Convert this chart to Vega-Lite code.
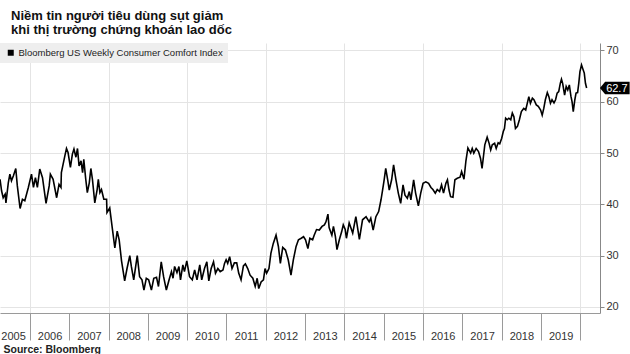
{
  "$schema": "https://vega.github.io/schema/vega-lite/v6.json",
  "width": 600,
  "height": 270,
  "autosize": {"type": "none"},
  "padding": {"left": 0, "top": 43, "right": 30, "bottom": 41},
  "background": "white",
  "title": {
    "text": ["Niềm tin người tiêu dùng sụt giảm", "khi thị trường chứng khoán lao dốc"],
    "anchor": "start",
    "frame": "group",
    "dx": 11,
    "offset": 6,
    "font": "Liberation Sans",
    "fontSize": 13,
    "fontWeight": "bold",
    "color": "#111",
    "lineHeight": 14
  },
  "config": {"view": {"stroke": null}},
  "data": {
    "values": [
      {"year": 2005.24, "value": 44.9}, {"year": 2005.28, "value": 42.6}, {"year": 2005.32, "value": 41.3},
      {"year": 2005.37, "value": 42.0}, {"year": 2005.39, "value": 40.3}, {"year": 2005.45, "value": 44.2},
      {"year": 2005.49, "value": 45.9}, {"year": 2005.53, "value": 44.6}, {"year": 2005.58, "value": 45.6},
      {"year": 2005.64, "value": 47.0}, {"year": 2005.68, "value": 43.6}, {"year": 2005.75, "value": 39.2},
      {"year": 2005.81, "value": 41.0}, {"year": 2005.87, "value": 40.7}, {"year": 2005.96, "value": 43.3},
      {"year": 2006.04, "value": 45.9}, {"year": 2006.09, "value": 43.3}, {"year": 2006.14, "value": 45.2},
      {"year": 2006.19, "value": 43.3}, {"year": 2006.25, "value": 46.9}, {"year": 2006.32, "value": 45.2},
      {"year": 2006.41, "value": 40.2}, {"year": 2006.49, "value": 43.6}, {"year": 2006.52, "value": 45.9},
      {"year": 2006.59, "value": 44.9}, {"year": 2006.68, "value": 41.3}, {"year": 2006.74, "value": 43.9},
      {"year": 2006.79, "value": 43.3}, {"year": 2006.80, "value": 46.2}, {"year": 2006.89, "value": 49.5},
      {"year": 2006.93, "value": 50.9}, {"year": 2006.97, "value": 50.1}, {"year": 2007.03, "value": 47.2},
      {"year": 2007.08, "value": 49.8}, {"year": 2007.12, "value": 50.8}, {"year": 2007.17, "value": 49.2},
      {"year": 2007.21, "value": 50.9}, {"year": 2007.25, "value": 47.5}, {"year": 2007.30, "value": 48.5},
      {"year": 2007.34, "value": 46.2}, {"year": 2007.37, "value": 48.8}, {"year": 2007.42, "value": 44.9},
      {"year": 2007.46, "value": 42.3}, {"year": 2007.51, "value": 44.2}, {"year": 2007.55, "value": 47.0},
      {"year": 2007.59, "value": 44.9}, {"year": 2007.65, "value": 40.3}, {"year": 2007.71, "value": 42.9},
      {"year": 2007.74, "value": 44.9}, {"year": 2007.78, "value": 42.3}, {"year": 2007.82, "value": 42.9},
      {"year": 2007.88, "value": 41.0}, {"year": 2007.95, "value": 41.0}, {"year": 2007.96, "value": 38.4},
      {"year": 2008.03, "value": 39.3}, {"year": 2008.10, "value": 35.1}, {"year": 2008.16, "value": 31.5},
      {"year": 2008.22, "value": 34.8}, {"year": 2008.27, "value": 33.1}, {"year": 2008.33, "value": 29.0},
      {"year": 2008.41, "value": 25.1}, {"year": 2008.47, "value": 27.5}, {"year": 2008.54, "value": 30.0},
      {"year": 2008.58, "value": 27.9}, {"year": 2008.64, "value": 25.3}, {"year": 2008.69, "value": 27.9},
      {"year": 2008.73, "value": 30.0}, {"year": 2008.79, "value": 25.9}, {"year": 2008.85, "value": 25.3},
      {"year": 2008.90, "value": 23.3}, {"year": 2008.96, "value": 25.6}, {"year": 2009.02, "value": 25.3},
      {"year": 2009.09, "value": 23.3}, {"year": 2009.15, "value": 25.6}, {"year": 2009.22, "value": 25.8},
      {"year": 2009.27, "value": 24.0}, {"year": 2009.34, "value": 28.8}, {"year": 2009.40, "value": 25.9},
      {"year": 2009.47, "value": 23.3}, {"year": 2009.54, "value": 25.3}, {"year": 2009.60, "value": 26.9},
      {"year": 2009.64, "value": 25.6}, {"year": 2009.68, "value": 27.9}, {"year": 2009.74, "value": 26.7},
      {"year": 2009.79, "value": 27.9}, {"year": 2009.83, "value": 25.3}, {"year": 2009.89, "value": 28.2},
      {"year": 2009.93, "value": 26.9}, {"year": 2009.99, "value": 29.0}, {"year": 2010.06, "value": 25.9},
      {"year": 2010.13, "value": 25.3}, {"year": 2010.19, "value": 27.2}, {"year": 2010.25, "value": 25.3},
      {"year": 2010.32, "value": 28.2}, {"year": 2010.37, "value": 25.3}, {"year": 2010.44, "value": 27.5},
      {"year": 2010.50, "value": 28.8}, {"year": 2010.55, "value": 25.1}, {"year": 2010.61, "value": 27.5},
      {"year": 2010.67, "value": 28.8}, {"year": 2010.72, "value": 26.6}, {"year": 2010.78, "value": 27.5},
      {"year": 2010.84, "value": 26.9}, {"year": 2010.91, "value": 27.2}, {"year": 2010.95, "value": 28.5},
      {"year": 2010.99, "value": 29.2}, {"year": 2011.03, "value": 28.5}, {"year": 2011.08, "value": 29.8},
      {"year": 2011.14, "value": 27.5}, {"year": 2011.20, "value": 28.6}, {"year": 2011.26, "value": 28.6},
      {"year": 2011.31, "value": 26.6}, {"year": 2011.37, "value": 25.3}, {"year": 2011.43, "value": 28.0},
      {"year": 2011.48, "value": 28.4}, {"year": 2011.54, "value": 27.5}, {"year": 2011.60, "value": 26.2},
      {"year": 2011.67, "value": 25.6}, {"year": 2011.73, "value": 24.0}, {"year": 2011.78, "value": 25.6},
      {"year": 2011.82, "value": 23.6}, {"year": 2011.88, "value": 24.9}, {"year": 2011.94, "value": 25.3},
      {"year": 2011.98, "value": 27.5}, {"year": 2012.02, "value": 26.6}, {"year": 2012.08, "value": 27.5},
      {"year": 2012.13, "value": 30.5}, {"year": 2012.19, "value": 32.4}, {"year": 2012.26, "value": 34.0},
      {"year": 2012.32, "value": 31.8}, {"year": 2012.37, "value": 28.5}, {"year": 2012.43, "value": 31.6},
      {"year": 2012.50, "value": 31.1}, {"year": 2012.57, "value": 29.2}, {"year": 2012.64, "value": 26.2},
      {"year": 2012.70, "value": 29.2}, {"year": 2012.77, "value": 31.8}, {"year": 2012.83, "value": 33.1},
      {"year": 2012.90, "value": 33.4}, {"year": 2012.96, "value": 33.7}, {"year": 2013.01, "value": 33.1},
      {"year": 2013.07, "value": 31.4}, {"year": 2013.12, "value": 33.4}, {"year": 2013.19, "value": 33.1},
      {"year": 2013.23, "value": 34.0}, {"year": 2013.29, "value": 35.1}, {"year": 2013.36, "value": 35.0},
      {"year": 2013.43, "value": 35.7}, {"year": 2013.49, "value": 36.0}, {"year": 2013.53, "value": 36.6},
      {"year": 2013.58, "value": 38.1}, {"year": 2013.61, "value": 35.5}, {"year": 2013.68, "value": 34.0},
      {"year": 2013.72, "value": 35.7}, {"year": 2013.77, "value": 33.7}, {"year": 2013.81, "value": 31.2},
      {"year": 2013.87, "value": 33.1}, {"year": 2013.93, "value": 34.7}, {"year": 2013.97, "value": 36.0},
      {"year": 2014.02, "value": 35.1}, {"year": 2014.05, "value": 33.4}, {"year": 2014.12, "value": 36.4},
      {"year": 2014.21, "value": 34.4}, {"year": 2014.29, "value": 37.6}, {"year": 2014.38, "value": 33.2},
      {"year": 2014.46, "value": 37.0}, {"year": 2014.55, "value": 37.6}, {"year": 2014.63, "value": 36.6},
      {"year": 2014.67, "value": 37.3}, {"year": 2014.73, "value": 35.0}, {"year": 2014.80, "value": 37.6},
      {"year": 2014.87, "value": 38.6}, {"year": 2014.93, "value": 40.9}, {"year": 2014.97, "value": 42.8},
      {"year": 2015.01, "value": 44.8}, {"year": 2015.05, "value": 47.0}, {"year": 2015.10, "value": 44.8},
      {"year": 2015.14, "value": 42.8}, {"year": 2015.20, "value": 44.8}, {"year": 2015.25, "value": 47.7},
      {"year": 2015.31, "value": 44.8}, {"year": 2015.37, "value": 42.2}, {"year": 2015.43, "value": 40.2},
      {"year": 2015.49, "value": 43.8}, {"year": 2015.54, "value": 41.8}, {"year": 2015.60, "value": 41.2},
      {"year": 2015.65, "value": 42.5}, {"year": 2015.69, "value": 40.9}, {"year": 2015.76, "value": 44.8},
      {"year": 2015.81, "value": 42.2}, {"year": 2015.88, "value": 39.7}, {"year": 2015.94, "value": 42.2},
      {"year": 2016.00, "value": 44.1}, {"year": 2016.07, "value": 44.4}, {"year": 2016.14, "value": 44.1},
      {"year": 2016.20, "value": 43.3}, {"year": 2016.25, "value": 42.9}, {"year": 2016.31, "value": 42.2},
      {"year": 2016.36, "value": 42.9}, {"year": 2016.42, "value": 42.5}, {"year": 2016.47, "value": 43.8},
      {"year": 2016.52, "value": 42.2}, {"year": 2016.58, "value": 44.1}, {"year": 2016.62, "value": 44.8},
      {"year": 2016.66, "value": 42.8}, {"year": 2016.70, "value": 41.5}, {"year": 2016.76, "value": 41.4},
      {"year": 2016.81, "value": 44.8}, {"year": 2016.87, "value": 45.1}, {"year": 2016.94, "value": 45.3},
      {"year": 2016.98, "value": 46.4}, {"year": 2017.04, "value": 44.9}, {"year": 2017.09, "value": 48.5},
      {"year": 2017.14, "value": 51.0}, {"year": 2017.21, "value": 50.0}, {"year": 2017.25, "value": 50.9},
      {"year": 2017.29, "value": 50.0}, {"year": 2017.35, "value": 50.9}, {"year": 2017.41, "value": 50.3},
      {"year": 2017.46, "value": 49.0}, {"year": 2017.50, "value": 47.0}, {"year": 2017.57, "value": 51.6},
      {"year": 2017.63, "value": 53.1}, {"year": 2017.68, "value": 51.9}, {"year": 2017.72, "value": 50.6},
      {"year": 2017.76, "value": 51.6}, {"year": 2017.82, "value": 51.9}, {"year": 2017.86, "value": 50.9},
      {"year": 2017.91, "value": 52.0}, {"year": 2017.95, "value": 51.8}, {"year": 2018.00, "value": 52.9},
      {"year": 2018.04, "value": 54.2}, {"year": 2018.07, "value": 54.8}, {"year": 2018.10, "value": 56.8},
      {"year": 2018.14, "value": 56.5}, {"year": 2018.18, "value": 56.8}, {"year": 2018.23, "value": 56.5},
      {"year": 2018.27, "value": 57.8}, {"year": 2018.31, "value": 57.1}, {"year": 2018.35, "value": 54.8},
      {"year": 2018.40, "value": 55.2}, {"year": 2018.45, "value": 56.5}, {"year": 2018.50, "value": 58.1},
      {"year": 2018.56, "value": 58.7}, {"year": 2018.61, "value": 58.4}, {"year": 2018.65, "value": 59.7},
      {"year": 2018.69, "value": 61.0}, {"year": 2018.73, "value": 59.7}, {"year": 2018.78, "value": 60.7},
      {"year": 2018.82, "value": 60.4}, {"year": 2018.88, "value": 59.4}, {"year": 2018.93, "value": 59.1},
      {"year": 2018.99, "value": 58.4}, {"year": 2019.03, "value": 57.4}, {"year": 2019.07, "value": 58.7},
      {"year": 2019.11, "value": 60.4}, {"year": 2019.16, "value": 61.8}, {"year": 2019.20, "value": 61.0},
      {"year": 2019.24, "value": 59.7}, {"year": 2019.28, "value": 60.4}, {"year": 2019.33, "value": 59.8},
      {"year": 2019.37, "value": 60.4}, {"year": 2019.41, "value": 61.7}, {"year": 2019.45, "value": 62.0},
      {"year": 2019.49, "value": 63.6}, {"year": 2019.52, "value": 64.4}, {"year": 2019.55, "value": 63.6},
      {"year": 2019.60, "value": 61.3}, {"year": 2019.64, "value": 63.0}, {"year": 2019.68, "value": 62.3},
      {"year": 2019.72, "value": 63.3}, {"year": 2019.76, "value": 61.1}, {"year": 2019.79, "value": 60.0},
      {"year": 2019.82, "value": 58.1}, {"year": 2019.86, "value": 60.4}, {"year": 2019.89, "value": 61.7},
      {"year": 2019.93, "value": 61.8}, {"year": 2019.96, "value": 63.6}, {"year": 2019.99, "value": 65.9},
      {"year": 2020.03, "value": 67.2}, {"year": 2020.06, "value": 66.5}, {"year": 2020.10, "value": 65.6},
      {"year": 2020.13, "value": 63.6}, {"year": 2020.16, "value": 62.7}
    ]
  },
  "layer": [
    {
      "mark": {"type": "line", "color": "#000", "strokeWidth": 1.6},
      "encoding": {
        "x": {
          "field": "year",
          "type": "quantitative",
          "scale": {"domain": [2005.239, 2020.5], "nice": false, "zero": false},
          "axis": {
            "values": [2005.5, 2006.5, 2007.5, 2008.5, 2009.5, 2010.5, 2011.5, 2012.5, 2013.5, 2014.5, 2015.5, 2016.5, 2017.5, 2018.5, 2019.5, 2020.5],
            "tickCount": 30,
            "labelExpr": "datum.value > 2020 ? '' : '' + floor(datum.value)",
            "tickOffset": -19.66,
            "labelOffset": {"condition": {"test": "datum.value < 2006", "value": 22.5}, "value": 19.66},
            "labelFlush": false,
            "labelOverlap": false,
            "labelBound": false,
            "tickSize": 27,
            "labelPadding": -0.7,
            "labelBaseline": "alphabetic",
            "labelAlign": "center",
            "tickColor": "#9a9a9a",
            "domainColor": "#9a9a9a",
            "labelColor": "#333",
            "labelFont": "Liberation Sans",
            "labelFontSize": 11,
            "grid": true,
            "gridColor": "#e4e4e4",
            "gridOpacity": {"condition": {"test": "(datum.value - 0.5) % 2 == 0", "value": 1}, "value": 0},
            "title": "Source: Bloomberg",
            "titleAnchor": "start",
            "titleAlign": "left",
            "titleAngle": 0,
            "titleX": 3,
            "titleY": 39,
            "titleBaseline": "alphabetic",
            "titleFont": "Liberation Sans",
            "titleFontSize": 10.5,
            "titleFontWeight": "bold",
            "titleColor": "#222"
          }
        },
        "y": {
          "field": "value",
          "type": "quantitative",
          "scale": {"domain": [18.83, 71.46], "nice": false, "zero": false},
          "axis": {
            "orient": "right",
            "values": [20, 30, 40, 50, 60, 70],
            "tickSize": 4,
            "labelPadding": 2,
            "labelFlush": false,
            "labelOverlap": false,
            "domainColor": "#888",
            "tickColor": "#888",
            "labelColor": "#333",
            "labelFont": "Liberation Sans",
            "labelFontSize": 11,
            "gridColor": "#e4e4e4",
            "title": null
          }
        },
        "color": {
          "datum": "Bloomberg US Weekly Consumer Comfort Index",
          "scale": {"range": ["#000"]},
          "legend": {
            "title": null,
            "orient": "top-left",
            "offset": 0,
            "fillColor": "#eeeeee",
            "padding": 5,
            "symbolType": "square",
            "symbolSize": 36,
            "symbolFillColor": "#000",
            "symbolStrokeColor": "#000",
            "symbolStrokeWidth": 0,
            "symbolOffset": 1,
            "labelFont": "Liberation Sans",
            "labelFontSize": 9.5,
            "labelColor": "#222",
            "labelOffset": 3,
            "labelLimit": 400
          }
        }
      }
    },
    {
      "transform": [
        {"joinaggregate": [{"op": "max", "field": "year", "as": "last"}]},
        {"filter": "datum.year == datum.last"}
      ],
      "mark": {
        "type": "point",
        "shape": "M1.33,0L1.85,-0.62L4.3,-0.62L4.3,0.62L1.85,0.62Z",
        "size": 400,
        "filled": true,
        "color": "#000",
        "opacity": 1,
        "strokeWidth": 0
      },
      "encoding": {
        "x": {"field": "year", "type": "quantitative"},
        "y": {"field": "value", "type": "quantitative"}
      }
    },
    {
      "transform": [
        {"joinaggregate": [{"op": "max", "field": "year", "as": "last"}]},
        {"filter": "datum.year == datum.last"}
      ],
      "mark": {
        "type": "text",
        "align": "left",
        "baseline": "middle",
        "dx": 19.5,
        "dy": 1,
        "color": "#fff",
        "font": "Liberation Sans",
        "fontSize": 11
      },
      "encoding": {
        "x": {"field": "year", "type": "quantitative"},
        "y": {"field": "value", "type": "quantitative"},
        "text": {"field": "value", "type": "quantitative", "format": ".1f"}
      }
    }
  ]
}
